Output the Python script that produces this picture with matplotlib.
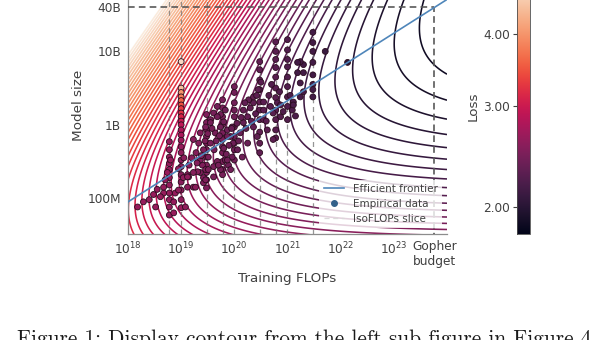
import numpy as np
import matplotlib
matplotlib.use("Agg")
import matplotlib.pyplot as plt
from matplotlib.colors import LogNorm
from matplotlib.lines import Line2D
import seaborn as sns

# ---------------- data ----------------
# parametric loss fit used for the contours  L(N, D) = E + A / N^alpha + B / D^beta,  C = 6 N D
E_fit, A_fit, B_fit = 1.66, 315.0, 349.0
alpha_fit, beta_fit = 0.34, 0.28

# efficient frontier
frontier_flops = [1e18, 1e24]
frontier_params = [8.9e7, 5.1e10]

gopher_budget = 5.76e23
gopher_params = 4e10

# IsoFLOP slices
iso_budgets = [6e18, 1e19, 3e19, 6e19, 1e20, 3e20, 6e20, 1e21, 3e21]
iso_logN = [
    [8.77, 8.66, 8.56, 8.47, 8.39, 8.28, 8.18, 8.07, 7.98, 7.88, 7.77],
    [9.86, 9.50, 9.44, 9.38, 9.33, 9.27, 9.22, 9.16, 9.11, 9.05, 9.00, 8.93,
     8.86, 8.79, 8.70, 8.62, 8.52, 8.43, 8.32, 8.22, 8.11, 7.98, 7.87],
    [9.14, 9.03, 8.93, 8.84, 8.75, 8.66, 8.56, 8.45, 8.35, 8.25, 8.14],
    [9.34, 9.23, 9.11, 9.00, 8.89, 8.80, 8.70, 8.62, 8.50, 8.39, 8.32],
    [9.52, 9.44, 9.30, 9.20, 9.11, 8.97, 8.84, 8.75, 8.66, 8.52],
    [9.86, 9.75, 9.61, 9.48, 9.31, 9.20, 9.07, 8.90, 8.75, 8.62],
    [10.13, 10.00, 9.89, 9.78, 9.65, 9.50, 9.37, 9.20, 9.07, 8.93, 8.82],
    [10.16, 10.02, 9.89, 9.79, 9.65, 9.52, 9.38, 9.25, 9.07],
    [10.26, 10.12, 10.00, 9.85, 9.68, 9.55, 9.48, 9.38],
]
iso_loss = [
    [2.62] * 11,
    [4.75, 4.45, 4.0, 3.8, 3.6, 3.45, 3.3, 3.2, 3.1, 3.0, 2.9, 2.8,
     2.75, 2.7, 2.65, 2.6, 2.58, 2.56, 2.55, 2.55, 2.58, 2.6, 2.65],
    [2.5] * 11,
    [2.46] * 11,
    [2.42] * 10,
    [2.33] * 10,
    [2.28] * 11,
    [2.24] * 9,
    [2.15] * 8,
]

# other empirical runs (log10 FLOPs, log10 params, loss)
cloud_logC = [18.18, 18.29, 18.48, 18.52, 18.67, 18.86, 18.89, 19.08, 19.04, 19.12,
              19.23, 19.36, 19.42, 19.61, 18.61, 18.95, 19.12, 19.14, 19.31, 19.40,
              19.42, 19.46, 19.61, 19.68, 19.74, 19.83, 19.89, 19.96, 20.06, 19.51,
              19.42, 19.33, 19.23, 19.36, 19.46, 19.55, 19.61, 19.68, 19.74, 19.80,
              19.87, 19.93, 19.98, 20.11, 20.17, 20.25, 20.30, 20.36, 20.55, 20.55,
              20.43, 20.62, 20.73, 20.81, 20.87, 21.09, 21.11, 20.73, 19.55, 19.64,
              19.55, 19.68, 19.83, 19.74, 19.87, 19.96, 20.17, 20.27, 20.36, 20.45,
              20.55, 20.68, 20.87, 21.11, 21.24, 21.30, 21.30, 21.30, 20.36, 20.25,
              20.15, 19.87, 19.93, 19.70, 19.51, 19.36, 19.23, 19.46, 19.27, 19.12,
              18.80, 18.74, 18.67, 18.86, 21.24, 21.24, 21.71, 22.13, 21.19, 21.19,
              19.15, 19.20, 19.28, 19.30, 19.38, 19.45, 19.50, 19.58, 19.62, 19.66,
              19.72, 19.80, 19.85, 19.90, 19.95, 20.05, 20.08, 20.13, 20.20, 20.22,
              20.32, 20.40, 20.42, 20.50, 20.60, 20.65, 20.70, 20.85, 20.92, 21.05,
              21.15, 18.40, 18.55, 18.70, 18.95, 19.05]
cloud_logN = [7.88, 7.95, 8.05, 7.88, 8.07, 7.95, 8.07, 7.88, 8.28, 8.32,
              8.15, 8.35, 8.21, 8.29, 8.02, 8.11, 8.15, 8.29, 8.36, 8.45,
              8.28, 8.39, 8.43, 8.50, 8.39, 8.52, 8.45, 8.56, 8.66, 8.56,
              8.66, 8.75, 8.80, 8.89, 8.97, 9.07, 9.16, 9.25, 9.14, 9.04,
              8.93, 8.84, 8.75, 8.89, 9.03, 9.11, 9.23, 9.30, 9.20, 9.07,
              8.84, 8.93, 9.16, 9.30, 9.11, 9.20, 9.31, 8.80, 8.75, 8.89,
              9.03, 9.11, 9.20, 8.97, 8.84, 8.97, 9.20, 9.34, 9.38, 9.48,
              9.31, 9.25, 9.27, 9.27, 9.38, 9.45, 9.71, 9.82, 8.97, 8.75,
              8.56, 8.52, 8.39, 8.45, 8.39, 8.52, 8.35, 8.25, 8.15, 8.29,
              8.52, 8.35, 8.15, 7.80, 9.86, 9.57, 10.00, 9.85, 9.85, 9.71,
              8.45, 8.55, 8.62, 8.48, 8.58, 8.78, 8.88, 8.95, 8.66, 8.78,
              8.85, 8.68, 8.60, 8.72, 8.95, 9.02, 8.78, 9.10, 9.30, 8.95,
              9.05, 9.15, 9.40, 9.58, 9.05, 9.40, 9.55, 9.45, 9.18, 9.40,
              9.12, 7.98, 8.12, 8.25, 8.40, 8.55]
cloud_loss = [2.65, 2.65, 2.65, 2.65, 2.65, 2.63, 2.63, 2.6, 2.6, 2.6,
              2.55, 2.5, 2.5, 2.47, 2.65, 2.6, 2.57, 2.57, 2.53, 2.5,
              2.5, 2.5, 2.47, 2.45, 2.45, 2.43, 2.41, 2.4, 2.37, 2.47,
              2.5, 2.53, 2.55, 2.51, 2.47, 2.45, 2.45, 2.43, 2.42, 2.41,
              2.4, 2.4, 2.4, 2.37, 2.35, 2.35, 2.33, 2.32, 2.3, 2.3,
              2.33, 2.3, 2.27, 2.25, 2.25, 2.21, 2.2, 2.3, 2.47, 2.45,
              2.45, 2.43, 2.4, 2.42, 2.41, 2.38, 2.35, 2.33, 2.32, 2.3,
              2.29, 2.27, 2.25, 2.2, 2.18, 2.17, 2.15, 2.15, 2.35, 2.37,
              2.4, 2.41, 2.43, 2.45, 2.48, 2.51, 2.55, 2.5, 2.57, 2.6,
              2.65, 2.65, 2.65, 2.65, 2.15, 2.17, 2.1, 2.02, 2.15, 2.15,
              2.58, 2.56, 2.53, 2.53, 2.5, 2.48, 2.47, 2.45, 2.45, 2.44,
              2.43, 2.42, 2.41, 2.4, 2.38, 2.36, 2.37, 2.35, 2.33, 2.34,
              2.32, 2.3, 2.3, 2.28, 2.28, 2.26, 2.25, 2.23, 2.23, 2.2,
              2.2, 2.65, 2.63, 2.62, 2.6, 2.58]

x_ticks = [1e18, 1e19, 1e20, 1e21, 1e22, 1e23, gopher_budget]
x_ticklabels = [r"$10^{18}$", r"$10^{19}$", r"$10^{20}$", r"$10^{21}$",
                r"$10^{22}$", r"$10^{23}$", "Gopher\nbudget"]
y_ticks = [1e8, 1e9, 1e10, 4e10]
y_ticklabels = ["100M", "1B", "10B", "40B"]
cbar_ticks = [2.0, 3.0, 4.0]

# ---------------- figure ----------------
cmap = sns.color_palette("rocket", as_cmap=True)
norm = LogNorm(vmin=1.8, vmax=5.0)
text_col = "0.25"

fig = plt.figure(figsize=(6, 3.4), dpi=100)
ax = fig.add_axes([0.2133, 0.3132, 0.5317, 0.7515])
cax = fig.add_axes([0.8617, 0.3132, 0.0217, 0.7515])

# loss surface
logC = np.linspace(18, 24, 500)
logN = np.linspace(7.4, 11.1, 500)
LC, LN = np.meshgrid(logC, logN)
Cg, Ng = 10 ** LC, 10 ** LN
Dg = Cg / (6 * Ng)
Lg = E_fit + A_fit / Ng ** alpha_fit + B_fit / Dg ** beta_fit
levels = np.logspace(np.log10(1.8), np.log10(5.0), 50)
ax.contour(Cg, Ng, Lg, levels=levels, cmap=cmap, norm=norm, linewidths=1.15, zorder=1)

# IsoFLOP slices
for b in iso_budgets:
    ax.axvline(b, color="0.45", lw=0.9, ls=(0, (4, 3)), alpha=0.75, zorder=2)

# Gopher lines
ax.plot([1e18, gopher_budget], [gopher_params, gopher_params], color="0.35",
        lw=1.2, ls=(0, (4, 2.5)), zorder=3)
ax.plot([gopher_budget, gopher_budget], [1e7, gopher_params], color="0.35",
        lw=1.2, ls=(0, (4, 2.5)), zorder=3)

# empirical data
pts_C, pts_N, pts_L = [], [], []
for b, ns, ls_ in zip(iso_budgets, iso_logN, iso_loss):
    pts_C += [b] * len(ns)
    pts_N += [10 ** v for v in ns]
    pts_L += ls_
pts_C += [10 ** v for v in cloud_logC]
pts_N += [10 ** v for v in cloud_logN]
pts_L += cloud_loss
ax.scatter(pts_C, pts_N, c=pts_L, cmap=cmap, norm=norm, s=18,
           edgecolors="#2a0c1e", linewidths=0.6, zorder=4)

# frontier
ax.plot(frontier_flops, frontier_params, color="#4f86ba", lw=1.2, zorder=5)

ax.set_xscale("log")
ax.set_yscale("log")
ax.set_xlim(1e18, 1e24)
ax.set_ylim(3.3e7, 1e11)
ax.set_xticks(x_ticks)
ax.set_xticklabels(x_ticklabels)
ax.set_yticks(y_ticks)
ax.set_yticklabels(y_ticklabels)
ax.minorticks_off()
ax.tick_params(length=0, labelsize=8.7, colors=text_col, pad=5)
ax.set_xlabel("Training FLOPs", fontsize=9.7, color=text_col, labelpad=2.5)
ax.set_ylabel("Model size", fontsize=9.7, color=text_col, labelpad=1.5)
for s in ["top", "right"]:
    ax.spines[s].set_visible(False)
for s in ["left", "bottom"]:
    ax.spines[s].set_color("0.55")
    ax.spines[s].set_linewidth(0.9)

handles = [
    Line2D([], [], color="#4f86ba", lw=1.2),
    Line2D([], [], ls="none", marker="o", ms=4, color="#33618a"),
    Line2D([], [], color="0.85", lw=0.9, ls=(0, (4, 3))),
]
leg = ax.legend(handles, ["Efficient frontier", "Empirical data", "IsoFLOPs slice"],
                loc="lower right", fontsize=7.5, framealpha=0.8, edgecolor="none",
                fancybox=False, borderaxespad=0.5)
for t in leg.get_texts():
    t.set_color(text_col)

# colorbar
sm = plt.cm.ScalarMappable(norm=norm, cmap=cmap)
cb = fig.colorbar(sm, cax=cax)
cb.set_ticks(cbar_ticks)
cb.set_ticklabels(["%.2f" % v for v in cbar_ticks])
cb.ax.minorticks_off()
cax.yaxis.set_ticks_position("left")
cax.yaxis.set_label_position("left")
cax.tick_params(length=3, width=0.8, labelsize=8.7, colors=text_col, pad=2)
cb.outline.set_edgecolor("0.3")
cb.outline.set_linewidth(0.6)
cb.set_label("Loss", fontsize=9.7, color=text_col, labelpad=3)

fig.text(0.028, (340 - 345) / 340,
         "Figure 1: Display contour from the left sub-figure in Figure 4.",
         fontsize=15.4, family="cmr10", color="0.1", va="baseline", ha="left")

fig.savefig("out.png", dpi=100)
